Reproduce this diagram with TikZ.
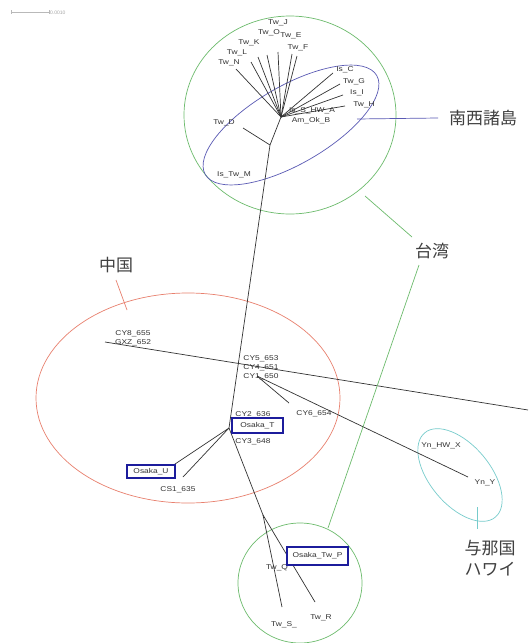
\documentclass[tikz,border=0pt]{standalone}
\usepackage{fontspec}
\setmainfont{Liberation Sans}
\newfontfamily\cjk{Noto Sans CJK JP}
\usepackage{graphicx}
\definecolor{tgreen}{HTML}{6DBB6D}
\definecolor{tred}{HTML}{E8806E}
\definecolor{tblue}{HTML}{5A5AB4}
\definecolor{tcyan}{HTML}{77CCCC}
\definecolor{boxblue}{HTML}{1C1C9C}
\definecolor{ink}{HTML}{333333}
\newcommand\sx[1]{\scalebox{1.2}[1]{#1}}
\tikzset{
  br/.style={draw=ink, line width=0.7pt},
  lbl/.style={font=\fontsize{7}{8}\selectfont, text=ink, inner sep=0pt},
  cjkl/.style={font=\cjk\fontsize{17}{21}\selectfont, text=black!75, inner sep=0pt, align=center},
  obox/.style={draw=boxblue, line width=2.3pt, fill=white, inner sep=0pt},
  grp/.style={line width=0.7pt},
}
\begin{document}
\begin{tikzpicture}[x=1pt,y=-1pt]
\fill[white] (0,0) rectangle (528,643);
\useasboundingbox (0,0) rectangle (528,643);

% scale bar
\coordinate (sb1) at (11,12);
\coordinate (sb2) at (49,12);
\draw[gray!55, line width=0.5pt] (sb1) -- (sb2);
\draw[gray!55, line width=0.5pt] (sb1) ++(0,-2) -- ++(0,4);
\draw[gray!55, line width=0.5pt] (sb2) ++(0,-2) -- ++(0,4);
\node[font=\fontsize{5}{6}\selectfont, text=gray!70, anchor=west, inner sep=0pt] (sbl) at (50,13) {0.0010};

% group outlines
\draw[tgreen, grp] (290,115) ellipse [x radius=106, y radius=99];
\draw[tblue, grp, rotate around={30:(291,125)}] (291,125) ellipse [x radius=99, y radius=39];
\draw[tred, grp] (188,398) ellipse [x radius=152, y radius=105];
\draw[tgreen, grp] (300,583) ellipse [x radius=62, y radius=60];
\draw[tcyan, grp, rotate around={-50:(460,475)}] (460,475) ellipse [x radius=55, y radius=30];

% tree coordinates
\coordinate (hub) at (281,117);
\coordinate (jT) at (278,52);
\coordinate (oT) at (267,55);
\coordinate (kT) at (258,57);
\coordinate (lT) at (251,62);
\coordinate (nT) at (236,69);
\coordinate (eT) at (292,54);
\coordinate (fT) at (297,56);
\coordinate (cT) at (333,73);
\coordinate (gT) at (340,84);
\coordinate (iT) at (343,95);
\coordinate (hT) at (345,106);
\coordinate (dJ) at (270,145);
\coordinate (dT) at (243,128);
\coordinate (osJ) at (229,428);
\coordinate (uT) at (172,466);
\coordinate (csT) at (183,477);
\coordinate (lowJ) at (263,515);
\coordinate (sT) at (282,607);
\coordinate (rT) at (315,602);
\coordinate (cy8) at (105,342);
\coordinate (rEnd) at (528,410);
\coordinate (n2) at (257,376);
\coordinate (yT) at (468,477);
\coordinate (c6T) at (289,403);

% branches
\foreach \t in {jT,oT,kT,lT,nT,eT,fT,cT,gT,iT,hT} \draw[br] (hub) -- (\t);
\draw[br] (hub) -- (dJ) -- (osJ) -- (lowJ);
\draw[br] (dJ) -- (dT);
\draw[br] (osJ) -- (uT);
\draw[br] (osJ) -- (csT);
\draw[br] (lowJ) -- (sT);
\draw[br] (lowJ) -- (rT);
\draw[br] (cy8) -- (rEnd);
\draw[br] (n2) -- (yT);
\draw[br] (n2) -- (c6T);

% leaf labels
\node[lbl] (lJ) at (278,23) {\sx{Tw\_J}};
\node[lbl] (lO) at (269,33) {\sx{Tw\_O}};
\node[lbl] (lK) at (249,43) {\sx{Tw\_K}};
\node[lbl] (lL) at (237,53) {\sx{Tw\_L}};
\node[lbl] (lN) at (229,63) {\sx{Tw\_N}};
\node[lbl] (lE) at (291,36) {\sx{Tw\_E}};
\node[lbl] (lF) at (298,48) {\sx{Tw\_F}};
\node[lbl] (lC) at (345,70) {\sx{Is\_C}};
\node[lbl] (lG) at (354,82) {\sx{Tw\_G}};
\node[lbl] (lI) at (357,93) {\sx{Is\_I}};
\node[lbl] (lH) at (364,105) {\sx{Tw\_H}};
\node[lbl] (lA) at (312,111) {\sx{Is\_S\_HW\_A}};
\node[lbl] (lB) at (311,121) {\sx{Am\_Ok\_B}};
\node[lbl] (lD) at (224,123) {\sx{Tw\_D}};
\node[lbl] (lM) at (234,175) {\sx{Is\_Tw\_M}};
\node[lbl] (l8) at (133,334) {\sx{CY8\_655}};
\node[lbl] (lgx) at (133,343) {\sx{GXZ\_652}};
\node[lbl] (l5) at (261,359) {\sx{CY5\_653}};
\node[lbl] (l4) at (261,368) {\sx{CY4\_651}};
\node[lbl] (l1) at (261,377) {\sx{CY1\_650}};
\node[lbl] (l6) at (314,414) {\sx{CY6\_654}};
\node[lbl] (l2) at (253,415) {\sx{CY2\_636}};
\node[lbl] (l3) at (253,442) {\sx{CY3\_648}};
\node[lbl] (lcs) at (178,490) {\sx{CS1\_635}};
\node[lbl] (lYX) at (441,446) {\sx{Yn\_HW\_X}};
\node[lbl] (lYY) at (485,483) {\sx{Yn\_Y}};
\node[lbl] (lQ) at (277,568) {\sx{Tw\_Q}};
\node[lbl] (lS) at (284,625) {\sx{Tw\_S\_}};
\node[lbl] (lR) at (321,618) {\sx{Tw\_R}};

% Osaka boxes
\node[obox, minimum width=51pt, minimum height=15pt] (bT) at (257.5,425.5) {};
\node[lbl] (oT1) at (bT) {\sx{Osaka\_T}};
\node[obox, minimum width=48pt, minimum height=13pt] (bU) at (151,471.5) {};
\node[lbl] (oU1) at (bU) {\sx{Osaka\_U}};
\node[obox, minimum width=61pt, minimum height=18pt] (bP) at (317.5,556) {};
\node[lbl] (oP1) at (bP) {\sx{Osaka\_Tw\_P}};

% group labels and callouts
\node[cjkl, anchor=west] (nsL) at (449,118) {南西諸島};
\coordinate (ns1) at (357,119);
\draw[tblue, grp] (ns1) -- ([xshift=-11pt]nsL.west);

\node[cjkl] (twL) at (432,251) {台湾};
\coordinate (tw1) at (365,196);
\coordinate (tw2) at (328,528);
\draw[tgreen, grp] (tw1) -- ([xshift=-20pt,yshift=14pt]twL.center);
\draw[tgreen, grp] ([xshift=-13pt,yshift=-14pt]twL.center) -- (tw2);

\node[cjkl] (cnL) at (116,265) {中国};
\coordinate (cn1) at (127,310);
\draw[tred, grp] ([yshift=-15pt]cnL.center) -- (cn1);

\node[cjkl] (ynL) at (490,558) {与那国\\ハワイ};
\coordinate (yn1) at (477,507);
\draw[tcyan, grp] (yn1) -- (477,529);
\end{tikzpicture}
\end{document}
